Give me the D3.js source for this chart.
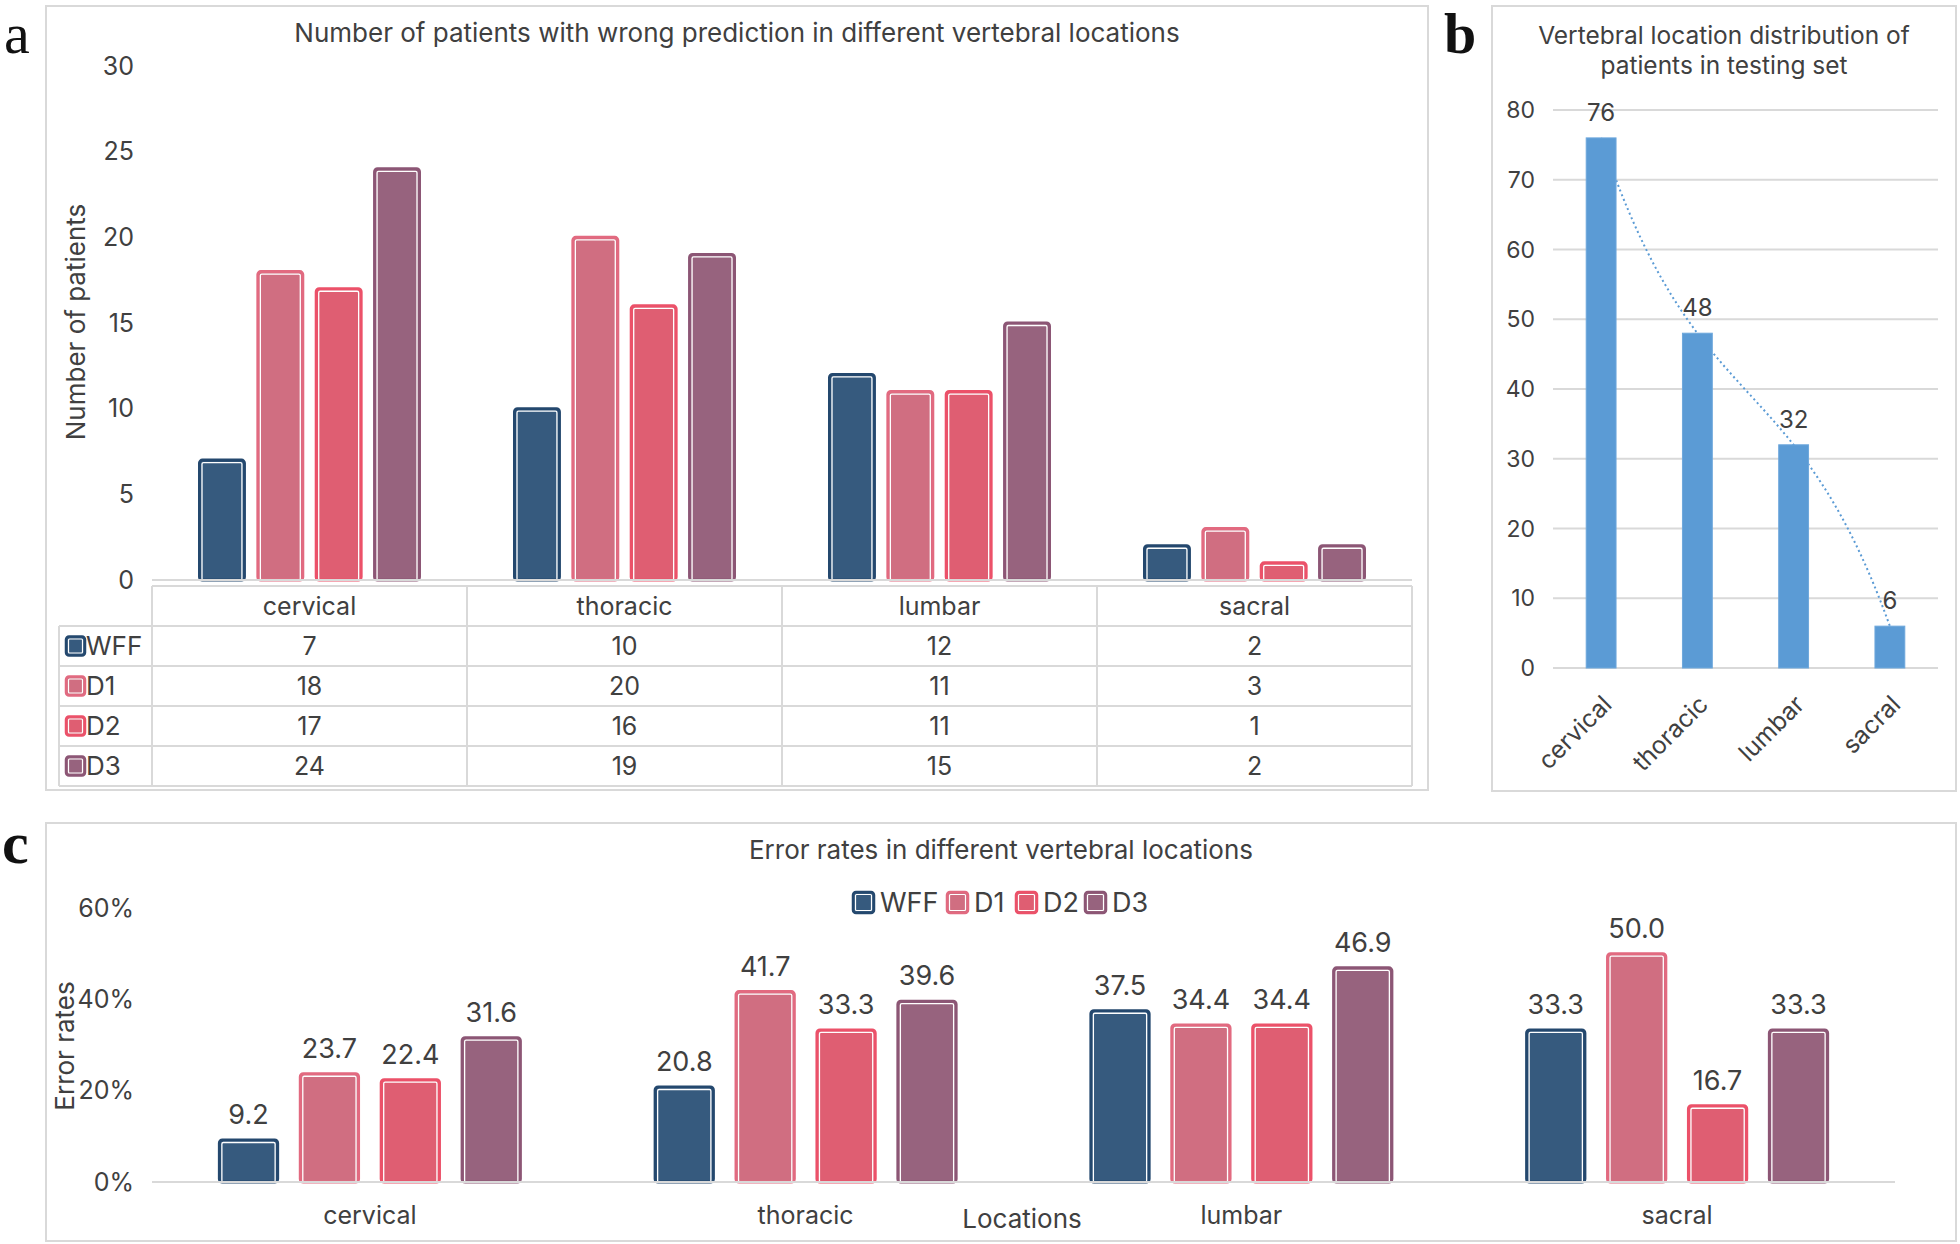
<!DOCTYPE html>
<html>
<head>
<meta charset="utf-8">
<script src="https://cdn.jsdelivr.net/npm/d3@7"></script>
<style>
  body { margin: 0; background: #fff; }
  svg { display: block; }
</style>
</head>
<body>
<svg id="chart" width="1960" height="1244"></svg>
<script>
// data
const categories = ["cervical", "thoracic", "lumbar", "sacral"];
const seriesNames = ["WFF", "D1", "D2", "D3"];

const wrongWFF = [7, 10, 12, 2];
const wrongD1 = [18, 20, 11, 3];
const wrongD2 = [17, 16, 11, 1];
const wrongD3 = [24, 19, 15, 2];

const testingCounts = [76, 48, 32, 6];

const rateWFF = [9.2, 20.8, 37.5, 33.3];
const rateD1 = [23.7, 41.7, 34.4, 50.0];
const rateD2 = [22.4, 33.3, 34.4, 16.7];
const rateD3 = [31.6, 39.6, 46.9, 33.3];

const countTicks = [0, 5, 10, 15, 20, 25, 30];
const testingTicks = [0, 10, 20, 30, 40, 50, 60, 70, 80];
const rateTicks = [0, 20, 40, 60];

const fills = ["#365a7e", "#d06e81", "#df5e72", "#97637e"];
const strokes = ["#24486e", "#e26a80", "#ec5169", "#8c5675"];
const textColor = "#404040";
const gridColor = "#d9d9d9";
const fontAC = "Inter, 'Liberation Sans', sans-serif";
const fontB = "Inter, 'Liberation Sans', Arial, sans-serif";

const color = d3.scaleOrdinal().domain(seriesNames).range(fills);
const strokeColor = d3.scaleOrdinal().domain(seriesNames).range(strokes);

const wrongRows = [wrongWFF, wrongD1, wrongD2, wrongD3];
const rateRows = [rateWFF, rateD1, rateD2, rateD3];

function flatten(rows) {
    const out = [];
    categories.forEach((c, i) => {
        seriesNames.forEach((s, j) => out.push({cat: c, key: s, value: rows[j][i]}));
    });
    return out;
}

const svg = d3.select("#chart");

function panelBox(x, y, w, h) {
    svg.append("rect")
        .attr("x", x).attr("y", y).attr("width", w).attr("height", h)
        .attr("fill", "#fff").attr("stroke", gridColor).attr("stroke-width", 2);
}

function panelLetter(t, x, y, size, bold) {
    svg.append("text")
        .attr("x", x).attr("y", y)
        .attr("font-family", "'Liberation Serif', 'Times New Roman', serif")
        .attr("font-size", size)
        .attr("font-weight", bold ? "bold" : "normal")
        .attr("fill", "#111")
        .text(t);
}

// bars with coloured border and a thin white inner line
function drawBars(g, data, x0, x1, y) {
    const bars = g.selectAll("g.bar")
        .data(data)
        .join("g")
        .attr("class", "bar")
        .attr("transform", d => `translate(${x0(d.cat) + x1(d.key)},0)`);
    bars.append("rect")
        .attr("x", 0)
        .attr("y", d => y(d.value))
        .attr("width", x1.bandwidth())
        .attr("height", d => y(0) - y(d.value))
        .attr("rx", 3)
        .attr("fill", d => color(d.key))
        .attr("stroke", d => strokeColor(d.key))
        .attr("stroke-width", 3);
    bars.append("rect")
        .attr("x", 2.5)
        .attr("y", d => y(d.value) + 2.5)
        .attr("width", x1.bandwidth() - 5)
        .attr("height", d => Math.max(0, y(0) - y(d.value) - 2.5))
        .attr("rx", 1.5)
        .attr("fill", "none")
        .attr("stroke", "#fff")
        .attr("stroke-width", 1.3);
    return bars;
}

function swatch(g, x, y, key, size) {
    g.append("rect")
        .attr("x", x).attr("y", y).attr("width", size).attr("height", size)
        .attr("rx", 3)
        .attr("fill", color(key))
        .attr("stroke", strokeColor(key))
        .attr("stroke-width", 2.5);
    g.append("rect")
        .attr("x", x + 2.5).attr("y", y + 2.5).attr("width", size - 5).attr("height", size - 5)
        .attr("rx", 1)
        .attr("fill", "none").attr("stroke", "#fff").attr("stroke-width", 1.2);
}

// ---------------- panel a ----------------
panelBox(46, 6, 1382, 784);
panelLetter("a", 4, 53, 58, false);

const gA = svg.append("g").attr("font-family", fontAC).attr("fill", textColor);

gA.append("text")
    .attr("x", 737).attr("y", 33).attr("dy", "0.35em")
    .attr("text-anchor", "middle").attr("font-size", 26)
    .text("Number of patients with wrong prediction in different vertebral locations");

const xA0 = d3.scaleBand().domain(categories).range([152, 1412]).padding(0);
const xA1 = d3.scaleBand().domain(seriesNames).range([0, 220]).paddingInner(0.23).paddingOuter(0);
const offA = (xA0.bandwidth() - 220) / 2;
const xA1s = k => xA1(k) + offA;
xA1s.bandwidth = () => xA1.bandwidth();
const yA = d3.scaleLinear().domain([0, 30]).range([580, 66]);

gA.append("g").selectAll("text")
    .data(countTicks)
    .join("text")
    .attr("x", 134).attr("y", d => yA(d)).attr("dy", "0.35em")
    .attr("text-anchor", "end").attr("font-size", 25)
    .text(d => d);

gA.append("text")
    .attr("transform", "translate(76,322) rotate(-90)")
    .attr("dy", "0.35em")
    .attr("text-anchor", "middle").attr("font-size", 26)
    .text("Number of patients");

drawBars(gA.append("g"), flatten(wrongRows), xA0, xA1s, yA);

gA.append("line")
    .attr("x1", 152).attr("x2", 1412).attr("y1", yA(0)).attr("y2", yA(0))
    .attr("stroke", gridColor).attr("stroke-width", 2);

// data table under panel a
const rowY = d3.scaleBand().domain(["head"].concat(seriesNames)).range([586, 786]);
const tbl = gA.append("g");
const colEdges = categories.map(c => xA0(c)).concat([xA0.range()[1]]);

tbl.selectAll("line.v")
    .data(colEdges)
    .join("line")
    .attr("x1", d => d).attr("x2", d => d)
    .attr("y1", rowY("head")).attr("y2", 786)
    .attr("stroke", gridColor).attr("stroke-width", 2);
tbl.append("line")
    .attr("x1", 59).attr("x2", 59).attr("y1", rowY("WFF")).attr("y2", 786)
    .attr("stroke", gridColor).attr("stroke-width", 2);
tbl.append("line")
    .attr("x1", 152).attr("x2", 1412).attr("y1", rowY("head")).attr("y2", rowY("head"))
    .attr("stroke", gridColor).attr("stroke-width", 2);
tbl.selectAll("line.h")
    .data(seriesNames.map(s => rowY(s)).concat([786]))
    .join("line")
    .attr("x1", 59).attr("x2", 1412).attr("y1", d => d).attr("y2", d => d)
    .attr("stroke", gridColor).attr("stroke-width", 2);

tbl.selectAll("text.head")
    .data(categories)
    .join("text")
    .attr("x", d => xA0(d) + xA0.bandwidth() / 2)
    .attr("y", rowY("head") + rowY.bandwidth() / 2).attr("dy", "0.35em")
    .attr("text-anchor", "middle").attr("font-size", 25)
    .text(d => d);

seriesNames.forEach((s, j) => {
    const cy = rowY(s) + rowY.bandwidth() / 2;
    swatch(tbl, 66, cy - 9.5, s, 19);
    tbl.append("text")
        .attr("x", 86).attr("y", cy).attr("dy", "0.35em")
        .attr("font-size", 26)
        .text(s);
    tbl.selectAll(null)
        .data(wrongRows[j])
        .join("text")
        .attr("x", (d, i) => xA0(categories[i]) + xA0.bandwidth() / 2)
        .attr("y", cy).attr("dy", "0.35em")
        .attr("text-anchor", "middle").attr("font-size", 25)
        .text(d => d);
});

// ---------------- panel b ----------------
panelBox(1492, 6, 464, 785);
panelLetter("b", 1444, 53, 58, true);

const gB = svg.append("g").attr("font-family", fontB).attr("fill", textColor);
gB.append("text")
    .attr("x", 1724).attr("y", 35).attr("dy", "0.35em")
    .attr("text-anchor", "middle").attr("font-size", 24.5)
    .text("Vertebral location distribution of");
gB.append("text")
    .attr("x", 1724).attr("y", 65).attr("dy", "0.35em")
    .attr("text-anchor", "middle").attr("font-size", 24.5)
    .text("patients in testing set");

const xB = d3.scaleBand().domain(categories).range([1553, 1938]).paddingInner(0.69).paddingOuter(0.345);
const yB = d3.scaleLinear().domain([0, 80]).range([668, 110]);
const xBc = i => xB(categories[i]) + xB.bandwidth() / 2;

gB.append("g").selectAll("line")
    .data(testingTicks)
    .join("line")
    .attr("x1", 1553).attr("x2", 1938)
    .attr("y1", d => yB(d)).attr("y2", d => yB(d))
    .attr("stroke", gridColor).attr("stroke-width", 2);

gB.append("g").selectAll("text")
    .data(testingTicks)
    .join("text")
    .attr("x", 1535).attr("y", d => yB(d)).attr("dy", "0.35em")
    .attr("text-anchor", "end").attr("font-size", 23)
    .text(d => d);

// polynomial (order 3) trendline through the four counts, as in the original
function trendValue(t) {
    let v = 0;
    testingCounts.forEach((yj, j) => {
        let term = yj;
        testingCounts.forEach((_, m) => { if (m !== j) term *= (t - m) / (j - m); });
        v += term;
    });
    return v;
}
const tScale = d3.scaleLinear().domain([0, testingCounts.length - 1]).range([xBc(0), xBc(testingCounts.length - 1)]);
const trend = d3.line()
    .x(t => tScale(t))
    .y(t => yB(trendValue(t)));
gB.append("path")
    .attr("d", trend(d3.range(0, testingCounts.length - 1 + 1e-9, 0.05)))
    .attr("fill", "none")
    .attr("stroke", "#5b9bd5")
    .attr("stroke-width", 2)
    .attr("stroke-dasharray", "2,3");

gB.append("g").selectAll("rect")
    .data(testingCounts)
    .join("rect")
    .attr("x", (d, i) => xB(categories[i]))
    .attr("y", d => yB(d))
    .attr("width", xB.bandwidth())
    .attr("height", d => yB(0) - yB(d))
    .attr("fill", "#5b9bd5")
    .attr("stroke", "#6ea8dc")
    .attr("stroke-width", 1);

gB.append("g").selectAll("text")
    .data(testingCounts)
    .join("text")
    .attr("x", (d, i) => xBc(i))
    .attr("y", d => yB(d) - 17)
    .attr("text-anchor", "middle").attr("font-size", 24)
    .text(d => d);

gB.append("g").selectAll("text")
    .data(categories)
    .join("text")
    .attr("transform", (d, i) => `translate(${xBc(i) + 6},${yB(0) + 32}) rotate(-45)`)
    .attr("dy", "0.35em")
    .attr("text-anchor", "end").attr("font-size", 24.5)
    .text(d => d);

// ---------------- panel c ----------------
panelBox(46, 823, 1910, 418);
panelLetter("c", 2, 863, 60, true);

const gC = svg.append("g").attr("font-family", fontAC).attr("fill", textColor);
gC.append("text")
    .attr("x", 1001).attr("y", 850).attr("dy", "0.35em")
    .attr("text-anchor", "middle").attr("font-size", 26)
    .text("Error rates in different vertebral locations");

// legend
const legC = gC.append("g");
const legX = [853, 947, 1016, 1085];
seriesNames.forEach((s, j) => {
    swatch(legC, legX[j], 892, s, 21);
    legC.append("text")
        .attr("x", legX[j] + 27).attr("y", 903).attr("dy", "0.35em")
        .attr("font-size", 27)
        .text(s);
});

const xC0 = d3.scaleBand().domain(categories).range([152, 1895]).padding(0);
const xC1 = d3.scaleBand().domain(seriesNames).range([0, 301]).paddingInner(0.28).paddingOuter(0);
const offC = (xC0.bandwidth() - 301) / 2;
const xC1s = k => xC1(k) + offC;
xC1s.bandwidth = () => xC1.bandwidth();
const yC = d3.scaleLinear().domain([0, 60]).range([1182, 908]);

gC.append("g").selectAll("text")
    .data(rateTicks)
    .join("text")
    .attr("x", 134).attr("y", d => yC(d)).attr("dy", "0.35em")
    .attr("text-anchor", "end").attr("font-size", 25)
    .text(d => d + "%");

gC.append("text")
    .attr("transform", "translate(65,1046) rotate(-90)")
    .attr("dy", "0.35em")
    .attr("text-anchor", "middle").attr("font-size", 26)
    .text("Error rates");

const dataC = flatten(rateRows);
drawBars(gC.append("g"), dataC, xC0, xC1s, yC);

gC.append("g").selectAll("text")
    .data(dataC)
    .join("text")
    .attr("x", d => xC0(d.cat) + xC1s(d.key) + xC1.bandwidth() / 2)
    .attr("y", d => yC(d.value) - 16)
    .attr("text-anchor", "middle").attr("font-size", 27)
    .text(d => d.value.toFixed(1));

gC.append("line")
    .attr("x1", 152).attr("x2", 1895).attr("y1", yC(0)).attr("y2", yC(0))
    .attr("stroke", gridColor).attr("stroke-width", 2);

gC.append("g").selectAll("text")
    .data(categories)
    .join("text")
    .attr("x", d => xC0(d) + xC0.bandwidth() / 2)
    .attr("y", 1215).attr("dy", "0.35em")
    .attr("text-anchor", "middle").attr("font-size", 25)
    .text(d => d);

gC.append("text")
    .attr("x", 1022).attr("y", 1219).attr("dy", "0.35em")
    .attr("text-anchor", "middle").attr("font-size", 26)
    .text("Locations");
</script>
</body>
</html>
